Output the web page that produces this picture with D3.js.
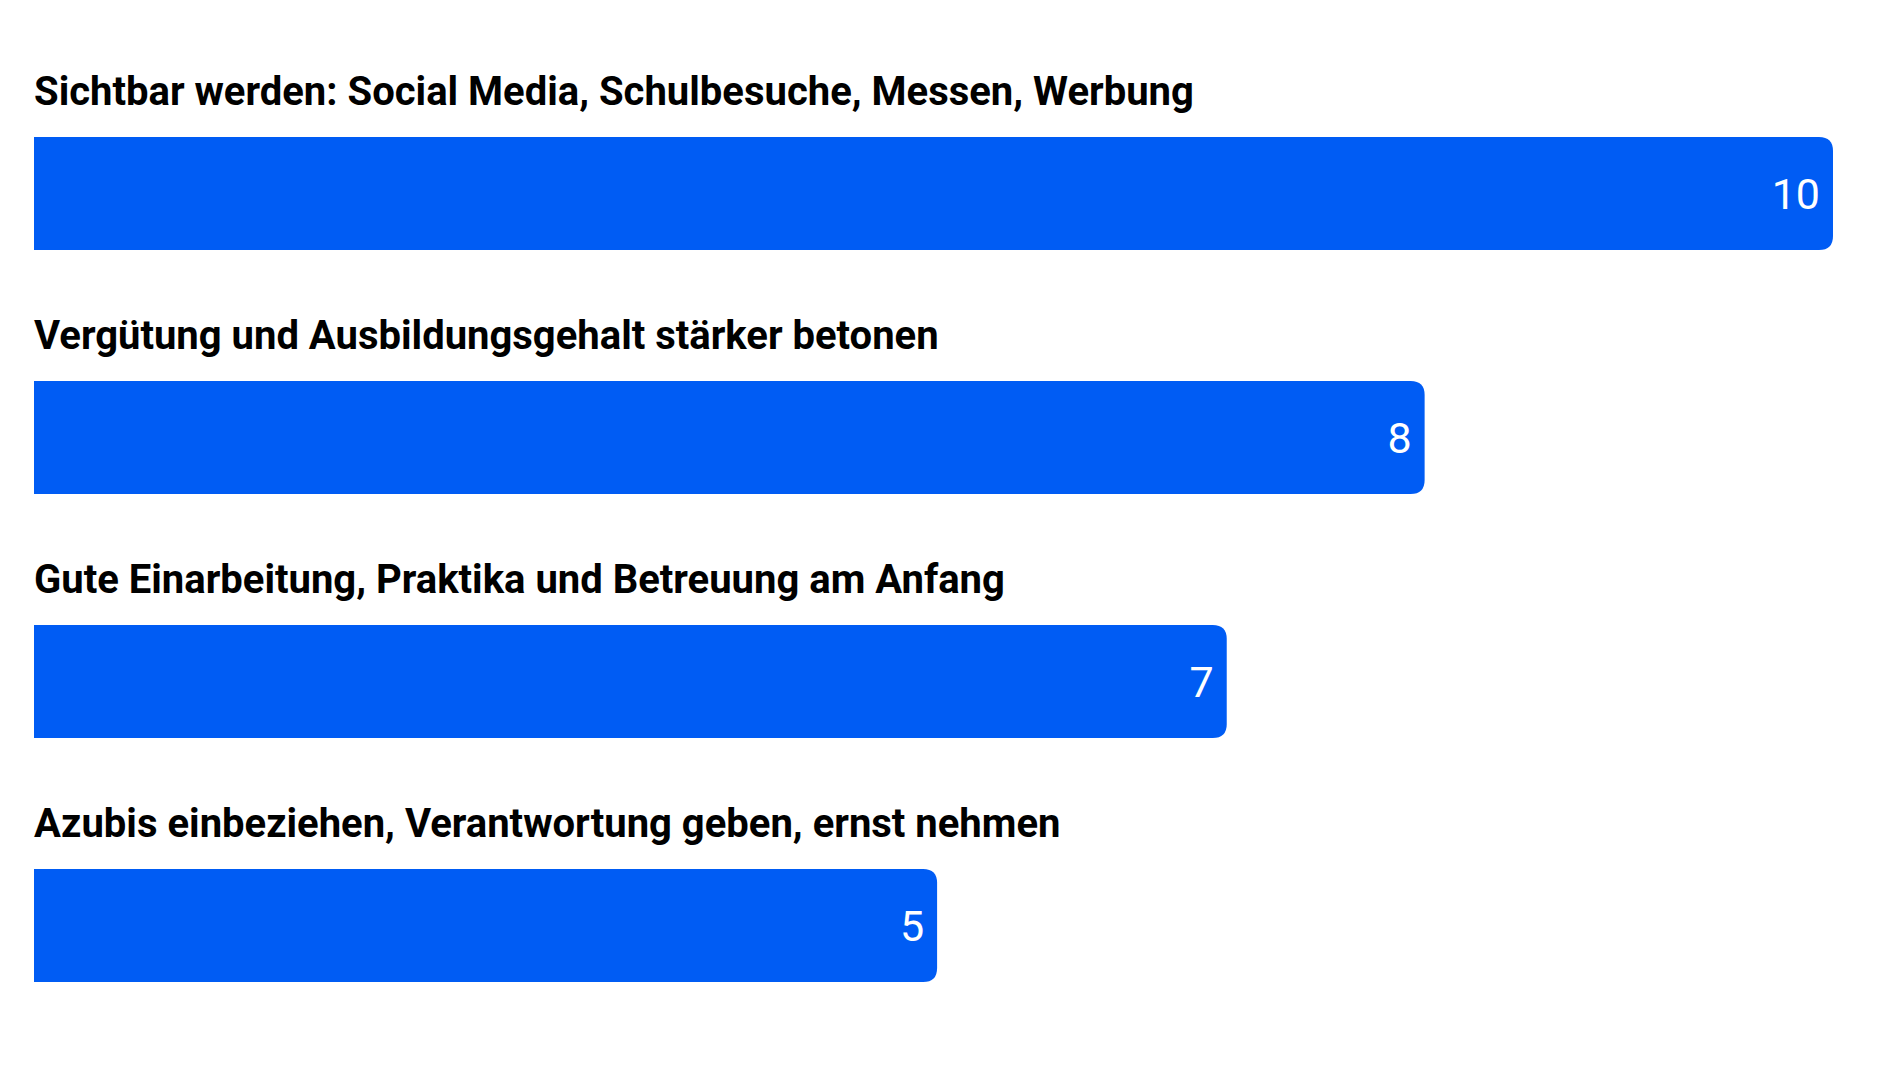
<!DOCTYPE html>
<html>
<head>
<meta charset="utf-8">
<script src="https://cdn.jsdelivr.net/npm/d3@7"></script>
<style>
  html, body { margin: 0; padding: 0; background: #fff; }
</style>
</head>
<body>
<div id="chart"></div>
<script>
const categories = [
  "Sichtbar werden: Social Media, Schulbesuche, Messen, Werbung",
  "Vergütung und Ausbildungsgehalt stärker betonen",
  "Gute Einarbeitung, Praktika und Betreuung am Anfang",
  "Azubis einbeziehen, Verantwortung geben, ernst nehmen"
];
// bar lengths; labels show them rounded
const values = [10, 7.73, 6.63, 5.02];

const width = 1900;
const height = 1069;

const svg = d3.select("#chart")
  .append("svg")
  .attr("width", width)
  .attr("height", height);

const x = d3.scaleLinear()
  .domain([0, 10])
  .range([34, 1833]);

const y = d3.scaleBand()
  .domain(categories)
  .range([137, 137 + 244 * (categories.length - 0.537)])
  .paddingInner(0.537)
  .paddingOuter(0);

const barColor = "#005cf4";
const r = 14;

// bar with only the right corners rounded
function barPath(v, cat) {
  const x0 = x(0), x1 = x(v);
  const y0 = y(cat), y1 = y(cat) + y.bandwidth();
  return `M ${x0},${y0} L ${x1 - r},${y0} Q ${x1},${y0} ${x1},${y0 + r}` +
    ` L ${x1},${y1 - r} Q ${x1},${y1} ${x1 - r},${y1} L ${x0},${y1} Z`;
}

const rows = categories.map((c, i) => ({ cat: c, value: values[i] }));

const g = svg.append("g");

g.selectAll("path.bar")
  .data(rows)
  .enter()
  .append("path")
  .attr("class", "bar")
  .attr("d", d => barPath(d.value, d.cat))
  .attr("fill", barColor);

g.selectAll("text.cat")
  .data(rows)
  .enter()
  .append("text")
  .attr("class", "cat")
  .attr("x", x(0))
  .attr("y", d => y(d.cat) - 32.5)
  .style("font-family", "Roboto, sans-serif")
  .style("font-weight", 700)
  .style("font-size", "40px")
  .attr("fill", "#000")
  .text(d => d.cat);

g.selectAll("text.val")
  .data(rows)
  .enter()
  .append("text")
  .attr("class", "val")
  .attr("x", d => x(d.value) - 13)
  .attr("y", d => y(d.cat) + y.bandwidth() / 2)
  .attr("dy", "0.36em")
  .attr("text-anchor", "end")
  .style("font-family", "Roboto, sans-serif")
  .style("font-weight", 400)
  .style("font-size", "43px")
  .attr("fill", "#fff")
  .text(d => d3.format(".0f")(d.value));
</script>
</body>
</html>
